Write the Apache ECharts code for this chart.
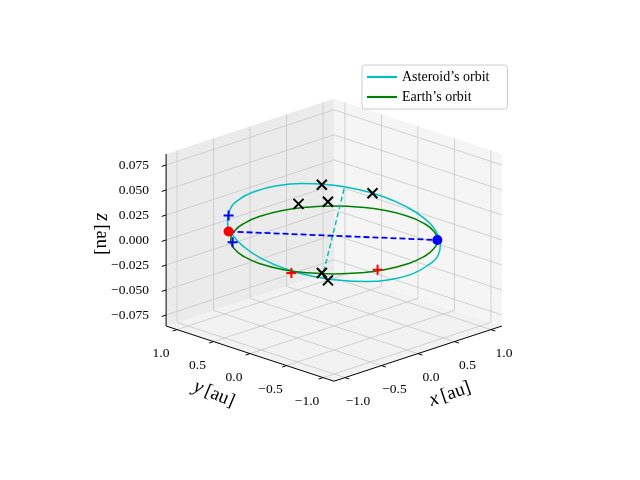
<!DOCTYPE html>
<html><head><meta charset="utf-8">
<script src="https://cdn.jsdelivr.net/npm/echarts@6/dist/echarts.min.js"></script>
<style>html,body{margin:0;padding:0;background:#fff}#c{width:640px;height:480px}</style>
</head><body><div id="c"></div>
<script>
// ---- data (au) ----
const earthX = [1,0.966,0.866,0.707,0.5,0.259,0,-0.259,-0.5,-0.707,-0.866,-0.966,-1,-0.966,-0.866,-0.707,-0.5,-0.259,0,0.259,0.5,0.707,0.866,0.966,1];
const earthY = [0,0.259,0.5,0.707,0.866,0.966,1,0.966,0.866,0.707,0.5,0.259,0,-0.259,-0.5,-0.707,-0.866,-0.966,-1,-0.966,-0.866,-0.707,-0.5,-0.259,0];
const astX = [0.663,0.894,1.074,1.192,1.242,1.215,1.116,0.953,0.734,0.478,0.197,-0.087,-0.353,-0.585,-0.764,-0.883,-0.932,-0.906,-0.806,-0.643,-0.424,-0.169,0.135,0.397,0.663];
const astY = [-0.796,-0.496,-0.154,0.210,0.573,0.904,1.185,1.397,1.523,1.553,1.494,1.339,1.105,0.806,0.463,0.100,-0.263,-0.595,-0.875,-1.087,-1.213,-1.243,-1.162,-1.030,-0.796];
const astZ = [0,0,0,0,0,0,0,0,0,0,0,0,0,0,0,0,0,0,0,0,0,0,0,0,0];
const earthPos = [0.708,-0.708,0];
const astPos = [-0.545,0.899,0];
const bluePlus = [[-0.213,1.231,0],[-0.739,0.650,0]];
const redPlus = [[-0.978,-0.394,0],[-0.321,-0.918,0]];
const blackX = [[1.067,1.234,0],[0.509,0.995,0],[0.755,0.838,0],[1.237,0.71,0],[-0.769,-0.603,0],[-0.882,-0.799,0]];
const cyanDash = [[1.131,0.993,0],[-0.806,-0.654,0]];
const xyTicks = [-1.0,-0.5,0.0,0.5,1.0];
const zTicks = [-0.075,-0.05,-0.025,0,0.025,0.05,0.075];
const zTickLabels = ['\u22120.075','\u22120.050','\u22120.025','0.000','0.025','0.050','0.075'];
const xyTickLabels = ['\u22121.0','\u22120.5','0.0','0.5','1.0'];

// ---- projection ----
const L = 1.15, ZM = 0.086, CX = 334, CY = 240, KX = 73, KY = 24, KZ = 1000;
function P(x,y,z){ return [CX + KX*(x-y), CY - KY*(x+y) - KZ*z]; }

const panes = [
  [[-L,-L,-ZM],[L,-L,-ZM],[L,L,-ZM],[-L,L,-ZM]],
  [[-L,L,-ZM],[L,L,-ZM],[L,L,ZM],[-L,L,ZM]],
  [[L,-L,-ZM],[L,L,-ZM],[L,L,ZM],[L,-L,ZM]]
];
const paneColors = ['#f2f2f2','#ebebeb','#f5f5f5'];
const grid = [];
xyTicks.forEach(v=>{
  grid.push([v,-L,-ZM,v,L,-ZM]); grid.push([v,L,-ZM,v,L,ZM]);
  grid.push([-L,v,-ZM,L,v,-ZM]); grid.push([L,v,-ZM,L,v,ZM]);
});
zTicks.forEach(v=>{ grid.push([-L,L,v,L,L,v]); grid.push([L,L,v,L,-L,v]); });
const axisLines = [[-L,-L,-ZM,L,-L,-ZM],[-L,-L,-ZM,-L,L,-ZM],[-L,L,-ZM,-L,L,ZM]];
const ticks = [];
xyTicks.forEach(v=>{ ticks.push([v,-L,-ZM,v,-L-0.06,-ZM]); ticks.push([-L,v,-ZM,-L-0.06,v,-ZM]); });
zTicks.forEach(v=>{ ticks.push([-L,L,v,-L-0.06,L,v]); });

function segSeries(segs, style, z){
  return {type:'custom', silent:true, z:z, data: segs.map(s=>[...P(s[0],s[1],s[2]),...P(s[3],s[4],s[5])]),
    renderItem:(params,api)=>{ const a=api.coord([api.value(0),api.value(1)]), b=api.coord([api.value(2),api.value(3)]);
      return {type:'line', shape:{x1:a[0],y1:a[1],x2:b[0],y2:b[1]}, style:style}; }};
}
const paneSeries = {type:'custom', silent:true, z:1, data: panes.map((p,i)=>[i]),
  renderItem:(params,api)=>{ const i=api.value(0); return {type:'polygon', shape:{points: panes[i].map(q=>api.coord(P(q[0],q[1],q[2])))}, style:{fill:paneColors[i], stroke:'none'}}; }};

const earthData = earthX.map((x,i)=>P(x,earthY[i],0));
const astData = astX.map((x,i)=>P(x,astY[i],astZ[i]));
const serif = 'Liberation Serif';
const graphics = [];
xyTicks.forEach((v,i)=>{
  const a=P(v,-L,-ZM); graphics.push({type:'text', x:a[0]+13, y:a[1]+24, style:{text:xyTickLabels[i], font:'13.5px '+serif, fill:'#000', align:'center', verticalAlign:'middle'}});
  const b=P(-L,v,-ZM); graphics.push({type:'text', x:b[0]-16, y:b[1]+24, style:{text:xyTickLabels[i], font:'13.5px '+serif, fill:'#000', align:'center', verticalAlign:'middle'}});
});
zTicks.forEach((v,i)=>{ const a=P(-L,L,v); graphics.push({type:'text', x:a[0]-17, y:a[1], style:{text:zTickLabels[i], font:'13.5px '+serif, fill:'#000', align:'right', verticalAlign:'middle'}}); });
function axLabel(x,y,rot,v){
  return {type:'text', x:x, y:y, rotation:rot, style:{text:'{i|'+v+'} {n|[au]}', rich:{i:{font:'italic 20px '+serif,fill:'#000'},n:{font:'19px '+serif,fill:'#000'}}, align:'center', verticalAlign:'middle'}};
}
graphics.push(axLabel(450,394,0.33,'x'));
graphics.push(axLabel(214,394,-0.4,'y'));
graphics.push(axLabel(102,234,-Math.PI/2,'z'));

const plusPath = 'path://M5,0L5,10M0,5L10,5';
const xPath = 'path://M0,0L10,10M10,0L0,10';
const lineIcon = 'path://M0,4L28,4L28,6L0,6Z';
const option = {
  animation:false,
  grid:{left:0,right:0,top:0,bottom:0},
  xAxis:{type:'value',min:0,max:640,show:false},
  yAxis:{type:'value',min:0,max:480,inverse:true,show:false},
  legend:{left:362,top:65,orient:'vertical',backgroundColor:'#fff',borderColor:'#ccc',borderWidth:1,borderRadius:3,padding:[5,18,5,5],itemGap:6,itemWidth:30,itemHeight:10,
    textStyle:{fontFamily:serif,fontSize:14,color:'#000'},data:[{name:'Asteroid\u2019s orbit',icon:lineIcon},{name:'Earth\u2019s orbit',icon:lineIcon}]},
  graphic:graphics,
  series:[
    paneSeries,
    segSeries(grid,{stroke:'#c8c8c8',lineWidth:0.8},2),
    segSeries(axisLines,{stroke:'#000',lineWidth:1},3),
    segSeries(ticks,{stroke:'#000',lineWidth:1},3),
    {type:'line',name:'Asteroid\u2019s orbit',data:astData,smooth:true,showSymbol:false,color:'#00bfbf',lineStyle:{color:'#00bfbf',width:1.5},z:5},
    {type:'line',name:'Earth\u2019s orbit',data:earthData,smooth:true,showSymbol:false,color:'#008000',lineStyle:{color:'#008000',width:1.5},z:5},
    {type:'line',data:cyanDash.map(p=>P(...p)),showSymbol:false,lineStyle:{color:'#00bfbf',width:1.5,type:[5,3]},z:5},
    {type:'line',data:[P(...astPos),P(...earthPos)],showSymbol:false,lineStyle:{color:'#0000ff',width:1.8,type:[6,3]},z:6},
    {type:'scatter',data:[P(...astPos)],symbolSize:10,itemStyle:{color:'#ff0000',opacity:1},z:7},
    {type:'scatter',data:[P(...earthPos)],symbolSize:10,itemStyle:{color:'#0000ff',opacity:1},z:7},
    {type:'scatter',data:bluePlus.map(p=>P(...p)),symbol:plusPath,symbolSize:10,itemStyle:{color:'none',borderColor:'#0000ff',borderWidth:2,opacity:1},z:7},
    {type:'scatter',data:redPlus.map(p=>P(...p)),symbol:plusPath,symbolSize:10,itemStyle:{color:'none',borderColor:'#ff0000',borderWidth:2,opacity:1},z:7},
    {type:'scatter',data:blackX.map(p=>P(...p)),symbol:xPath,symbolSize:10,itemStyle:{color:'none',borderColor:'#000',borderWidth:2,opacity:1},z:7}
  ]
};
echarts.init(document.getElementById('c')).setOption(option);
</script></body></html>
